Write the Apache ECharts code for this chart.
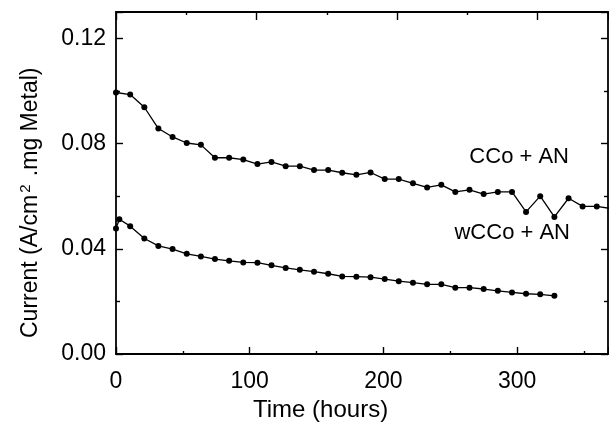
<!DOCTYPE html>
<html>
<head>
<meta charset="utf-8">
<script src="https://cdn.jsdelivr.net/npm/echarts@6/dist/echarts.min.js"></script>
<style>
  html, body { margin: 0; padding: 0; background: #fff; }
  #chart { width: 609px; height: 436px; }
</style>
</head>
<body>
<div id="chart"></div>
<script>
// CCo + AN, time in hours
const ccoTime = [0, 10.6, 21.2, 31.7, 42.3, 52.9, 63.5, 74.0, 84.6, 95.2, 105.8, 116.3,
  126.9, 137.5, 148.1, 158.7, 169.2, 179.8, 190.4, 201.0, 211.5, 222.1, 232.7, 243.3,
  253.8, 264.4, 275.0, 285.6, 296.2, 306.7, 317.3, 327.9, 338.5, 349.0, 359.6, 370.2];
const ccoCurrent = [0.0994, 0.0986, 0.0938, 0.0857, 0.0825, 0.0802, 0.0795, 0.0746, 0.0746,
  0.0739, 0.0722, 0.0730, 0.0714, 0.0714, 0.0699, 0.0699, 0.0689, 0.0681, 0.0690, 0.0665,
  0.0665, 0.0649, 0.0633, 0.0643, 0.0616, 0.0624, 0.0608, 0.0616, 0.0616, 0.0540, 0.0600,
  0.0521, 0.0592, 0.0561, 0.0561, 0.0553];

// wCCo + AN
const wccoTime = [0, 2.5, 10.6, 21.2, 31.7, 42.3, 52.9, 63.5, 74.0, 84.6, 95.2, 105.8, 116.3,
  126.9, 137.5, 148.1, 158.7, 169.2, 179.8, 190.4, 201.0, 211.5, 222.1, 232.7, 243.3,
  253.8, 264.4, 275.0, 285.6, 296.2, 306.7, 317.3, 327.9];
const wccoCurrent = [0.0477, 0.0512, 0.0486, 0.0439, 0.0411, 0.0399, 0.0381, 0.0371, 0.0361,
  0.0354, 0.0348, 0.0347, 0.0337, 0.0327, 0.0320, 0.0313, 0.0305, 0.0295, 0.0294, 0.0292,
  0.0285, 0.0277, 0.0271, 0.0265, 0.0265, 0.0252, 0.0252, 0.0247, 0.0240, 0.0234, 0.0229,
  0.0227, 0.0221];

const xTicks = [0, 100, 200, 300];
const yTicks = [0, 0.04, 0.08, 0.12];

const FONT = "'Liberation Sans', Arial, sans-serif";
const INK = '#000';

function pairs(xs, ys) {
  return xs.map((x, i) => [x, ys[i]]);
}

// shared look for the frame axes
function frameAxis(extra) {
  return Object.assign({
    type: 'value',
    axisLine: { show: true, onZero: false, lineStyle: { color: INK, width: 1.8 } },
    axisTick: { show: true, inside: true, length: 7, lineStyle: { color: INK, width: 1.4 } },
    minorTick: { show: true, splitNumber: 2, length: 3, lineStyle: { color: INK, width: 1.4 } },
    splitLine: { show: false },
    minorSplitLine: { show: false },
    axisLabel: { show: false },
  }, extra);
}

const chart = echarts.init(document.getElementById('chart'), null, { renderer: 'canvas' });

const option = {
  animation: false,
  backgroundColor: '#fff',
  grid: { left: 116, right: 1, top: 12, bottom: 82 },
  xAxis: [
    frameAxis({
      position: 'bottom',
      min: 0,
      max: 368,
      interval: 100,
      axisLabel: {
        show: true,
        color: INK,
        fontFamily: FONT,
        fontSize: 23,
        margin: 16,
        showMaxLabel: false,
        formatter: (v) => (xTicks.includes(v) ? String(v) : ''),
      },
    }),
    frameAxis({
      position: 'top',
      min: 0,
      max: 350,
      interval: 100,
      axisTick: { show: true, inside: true, length: 8, lineStyle: { color: INK, width: 1.4 } },
    }),
  ],
  yAxis: [
    frameAxis({
      position: 'left',
      min: 0,
      max: 0.13,
      interval: 0.04,
      minorTick: { show: true, splitNumber: 2, length: 4, lineStyle: { color: INK, width: 1.4 } },
      axisLabel: {
        show: true,
        color: INK,
        fontFamily: FONT,
        fontSize: 23,
        margin: 10,
        showMaxLabel: false,
        formatter: (v) => (yTicks.some((t) => Math.abs(t - v) < 1e-9) ? v.toFixed(2) : ''),
      },
    }),
    frameAxis({
      position: 'right',
      min: 0,
      max: 0.13,
      interval: 0.04,
      minorTick: { show: true, splitNumber: 2, length: 4, lineStyle: { color: INK, width: 1.4 } },
    }),
  ],
  series: [
    {
      name: 'CCo + AN',
      type: 'line',
      xAxisIndex: 0,
      yAxisIndex: 0,
      data: pairs(ccoTime, ccoCurrent),
      clip: true,
      symbol: 'circle',
      symbolSize: 6,
      showAllSymbol: true,
      itemStyle: { color: INK },
      lineStyle: { color: INK, width: 1.3 },
    },
    {
      name: 'wCCo + AN',
      type: 'line',
      xAxisIndex: 0,
      yAxisIndex: 0,
      data: pairs(wccoTime, wccoCurrent),
      clip: true,
      symbol: 'circle',
      symbolSize: 6,
      showAllSymbol: true,
      itemStyle: { color: INK },
      lineStyle: { color: INK, width: 1.3 },
    },
  ],
  graphic: [
    {
      type: 'text',
      right: 40,
      top: 146,
      style: { text: 'CCo + AN', fill: INK, font: `22px ${FONT}` },
    },
    {
      type: 'text',
      right: 39,
      top: 222,
      style: { text: 'wCCo + AN', fill: INK, font: `22px ${FONT}` },
    },
    {
      type: 'text',
      left: 253,
      top: 398,
      style: { text: 'Time (hours)', fill: INK, font: `24px ${FONT}` },
    },
    {
      type: 'text',
      x: 18,
      y: 338,
      rotation: Math.PI / 2,
      style: {
        text: 'Current (A/cm{s|2} .mg Metal)',
        fill: INK,
        font: `23px ${FONT}`,
        verticalAlign: 'top',
        rich: {
          s: { fontSize: 15, fontFamily: FONT, fill: INK, padding: [0, 2, 11, 2] },
        },
      },
    },
  ],
};

chart.setOption(option);
</script>
</body>
</html>
